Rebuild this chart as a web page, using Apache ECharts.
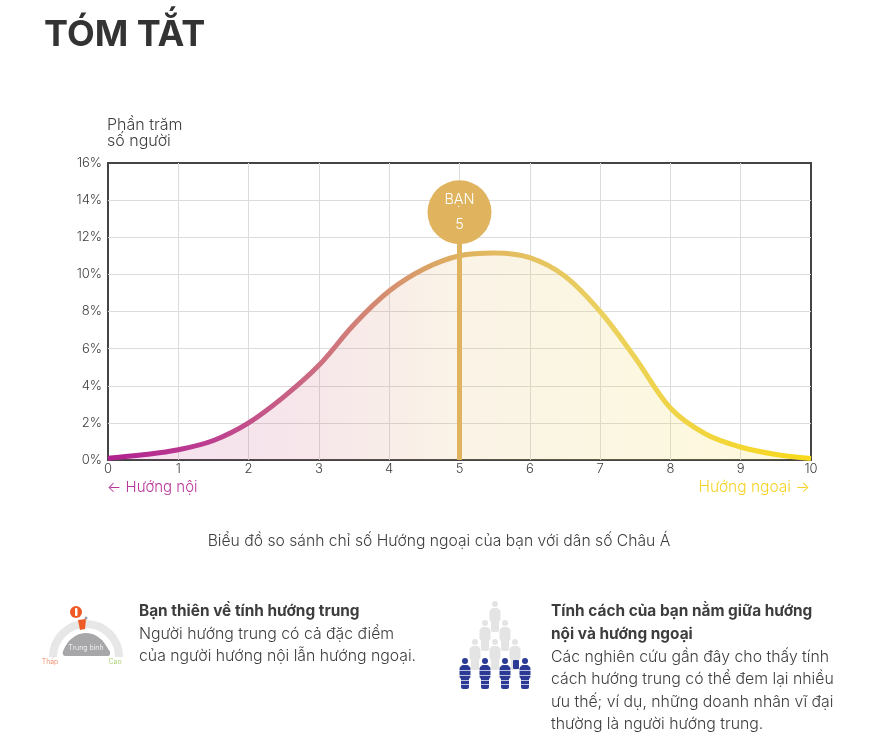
<!DOCTYPE html>
<html lang="vi">
<head>
<meta charset="utf-8">
<title>Tóm tắt</title>
<style>
  html, body { margin: 0; padding: 0; background: #fff; }
  #chart { width: 893px; height: 748px; }
</style>
<script src="https://cdn.jsdelivr.net/npm/echarts@6/dist/echarts.min.js"></script>
</head>
<body>
<div id="chart"></div>
<script>
// số liệu
const scores = [0, 0.5, 1, 1.5, 2, 2.5, 3, 3.5, 4, 4.5, 5, 5.5, 6, 6.5, 7, 7.5, 8, 8.5, 9, 9.5, 10];
const percents = [0.1, 0.28, 0.55, 1.05, 2.0, 3.4, 5.1, 7.3, 9.1, 10.3, 11.0, 11.15, 10.9, 9.9, 8.0, 5.5, 2.8, 1.4, 0.7, 0.3, 0.08];
const yourScore = 5;
const yourBubbleLevel = 13.35;

const FONT = 'Inter';
const INK = '#3d3d3d';
const GOLD = '#e0b45f';

const myChart = echarts.init(document.getElementById('chart'));

const hGradient = (stops) => new echarts.graphic.LinearGradient(0, 0, 1, 0, stops);

const txt = (x, y, text, extra) => ({
  type: 'text',
  x: x,
  y: y,
  silent: true,
  style: Object.assign({
    text: text,
    fontFamily: FONT,
    fontSize: 15.8,
    fontWeight: 300,
    fill: INK,
    textVerticalAlign: 'middle'
  }, extra)
});

// hình người trong icon bên phải
const person = (cx, top, color, striped) => {
  const kids = [
    { type: 'circle', shape: { cx: cx, cy: top + 3, r: 3 }, style: { fill: color } },
    { type: 'rect', shape: { x: cx - 4, y: top + 7, width: 8, height: 24, r: 2 }, style: { fill: color } },
    { type: 'rect', shape: { x: cx - 5.5, y: top + 8, width: 11, height: 13, r: 3 }, style: { fill: color } }
  ];
  if (striped) {
    [12, 17, 22, 26].forEach(d => {
      kids.push({ type: 'rect', shape: { x: cx - 6, y: top + d, width: 12, height: 0.7 }, style: { fill: '#fff' } });
    });
  }
  return { type: 'group', silent: true, children: kids };
};

const gaugeIcon = [
  { type: 'arc', silent: true, shape: { cx: 86, cy: 657, r: 33, startAngle: Math.PI, endAngle: 2 * Math.PI }, style: { stroke: '#e7e7e7', lineWidth: 8, fill: null } },
  { type: 'polygon', silent: true, shape: { points: [[63, 654], [65, 647], [70, 640], [78, 634.5], [86, 633], [94, 634.5], [102, 640], [107, 647], [110, 654]], smooth: 0.2 }, style: { fill: '#a7a7a9' } },
  { type: 'rect', silent: true, shape: { x: 63, y: 650, width: 47, height: 6, r: 2 }, style: { fill: '#a7a7a9' } },
  txt(86, 648, 'Trung bình', { fontSize: 7, fill: '#fff', textAlign: 'center' }),
  txt(50, 662, 'Thấp', { fontSize: 7, fill: '#f0805a', textAlign: 'center' }),
  txt(115, 662, 'Cao', { fontSize: 7, fill: '#9ccb5c', textAlign: 'center' }),
  { type: 'polygon', silent: true, shape: { points: [[78, 620], [86, 619], [85, 629], [80, 630]] }, style: { fill: '#ee5a25' } },
  { type: 'circle', silent: true, shape: { cx: 86, cy: 618, r: 1.5 }, style: { fill: '#9aa0a8' } },
  { type: 'circle', silent: true, shape: { cx: 76, cy: 612, r: 6 }, style: { fill: '#ee5a25' } },
  { type: 'rect', silent: true, shape: { x: 75, y: 608, width: 2.5, height: 8, r: 1 }, style: { fill: '#fff' } }
];

const peopleIcon = [
  person(495, 601, '#e4e4e4'),
  person(485, 620, '#e4e4e4'),
  person(505, 620, '#e4e4e4'),
  person(475, 639, '#e4e4e4'),
  person(495, 639, '#e4e4e4'),
  person(515, 639, '#e4e4e4'),
  { type: 'rect', silent: true, shape: { x: 513, y: 660, width: 6, height: 9, r: 1 }, style: { fill: '#2b3a94' } },
  person(465, 658, '#2b3a94', true),
  person(485, 658, '#2b3a94', true),
  person(505, 658, '#2b3a94', true),
  person(525, 658, '#2b3a94', true)
];

const option = {
  animation: false,
  backgroundColor: '#fff',
  grid: {
    left: 108,
    right: 82,
    top: 163,
    height: 297,
    show: true,
    borderColor: '#444',
    borderWidth: 2,
    backgroundColor: 'transparent'
  },
  xAxis: {
    type: 'value',
    min: 0,
    max: 10,
    interval: 1,
    axisLine: { show: false },
    axisTick: { show: false },
    axisLabel: { color: INK, fontFamily: FONT, fontWeight: 300, fontSize: 13, margin: 3 },
    splitLine: { showMinLine: false, showMaxLine: false, lineStyle: { color: '#dcdcdc', width: 1 } }
  },
  yAxis: {
    type: 'value',
    min: 0,
    max: 16,
    interval: 2,
    axisLine: { show: false },
    axisTick: { show: false },
    axisLabel: { color: INK, fontFamily: FONT, fontWeight: 300, fontSize: 13, margin: 6, formatter: '{value}%' },
    splitLine: { showMinLine: false, showMaxLine: false, lineStyle: { color: '#dcdcdc', width: 1 } }
  },
  series: [
    {
      type: 'line',
      data: scores.map((s, i) => [s, percents[i]]),
      smooth: 0.35,
      showSymbol: false,
      silent: true,
      clip: false,
      z: 3,
      lineStyle: {
        width: 5,
        color: hGradient([
          { offset: 0, color: '#b0208f' },
          { offset: 0.15, color: '#bd4090' },
          { offset: 0.3, color: '#cc6d80' },
          { offset: 0.5, color: '#dfb25f' },
          { offset: 0.7, color: '#ebd160' },
          { offset: 1, color: '#f8d91a' }
        ])
      },
      areaStyle: {
        color: hGradient([
          { offset: 0, color: 'rgba(184,42,146,0.2)' },
          { offset: 0.3, color: 'rgba(204,109,128,0.24)' },
          { offset: 0.5, color: 'rgba(223,178,95,0.22)' },
          { offset: 0.7, color: 'rgba(235,209,96,0.26)' },
          { offset: 1, color: 'rgba(248,217,26,0.22)' }
        ])
      }
    },
    {
      // thanh dọc điểm của bạn
      type: 'line',
      data: [[yourScore, 0], [yourScore, yourBubbleLevel]],
      showSymbol: false,
      silent: true,
      z: 4,
      lineStyle: { color: GOLD, width: 5, cap: 'butt' }
    },
    {
      type: 'scatter',
      data: [[yourScore, yourBubbleLevel]],
      symbolSize: 64,
      silent: true,
      z: 5,
      itemStyle: { color: GOLD, opacity: 1 },
      label: {
        show: true,
        position: 'inside',
        formatter: 'BẠN\n5',
        color: '#fff',
        fontFamily: FONT,
        fontWeight: 300,
        fontSize: 14.5,
        lineHeight: 25
      }
    }
  ],
  graphic: [
    txt(44, 35, 'TÓM TẮT', { fontSize: 36, fontWeight: 700, fill: '#333' }),
    txt(107, 125, 'Phần trăm', { fontSize: 16 }),
    txt(107, 141, 'số người', { fontSize: 16 }),
    txt(107, 487, '← Hướng nội', { fill: '#b9359a', fontSize: 15 }),
    txt(810, 487, 'Hướng ngoại →', { fill: '#f5d327', fontSize: 15.5, textAlign: 'right' }),
    txt(439, 541.5, 'Biểu đồ so sánh chỉ số Hướng ngoại của bạn với dân số Châu Á', { textAlign: 'center', fontSize: 15.7 }),

    txt(139, 611.5, 'Bạn thiên về tính hướng trung', { fontWeight: 700, fontSize: 15.4 }),
    txt(139, 634, 'Người hướng trung có cả đặc điểm'),
    txt(139, 656.5, 'của người hướng nội lẫn hướng ngoại.'),

    txt(551, 611.5, 'Tính cách của bạn nằm giữa hướng', { fontWeight: 700, fontSize: 15.4 }),
    txt(551, 634.5, 'nội và hướng ngoại', { fontWeight: 700, fontSize: 15.4 }),
    txt(551, 657, 'Các nghiên cứu gần đây cho thấy tính'),
    txt(551, 679.5, 'cách hướng trung có thể đem lại nhiều'),
    txt(551, 702, 'ưu thế; ví dụ, những doanh nhân vĩ đại'),
    txt(551, 724, 'thường là người hướng trung.')
  ].concat(gaugeIcon, peopleIcon)
};

myChart.setOption(option);
</script>
</body>
</html>
